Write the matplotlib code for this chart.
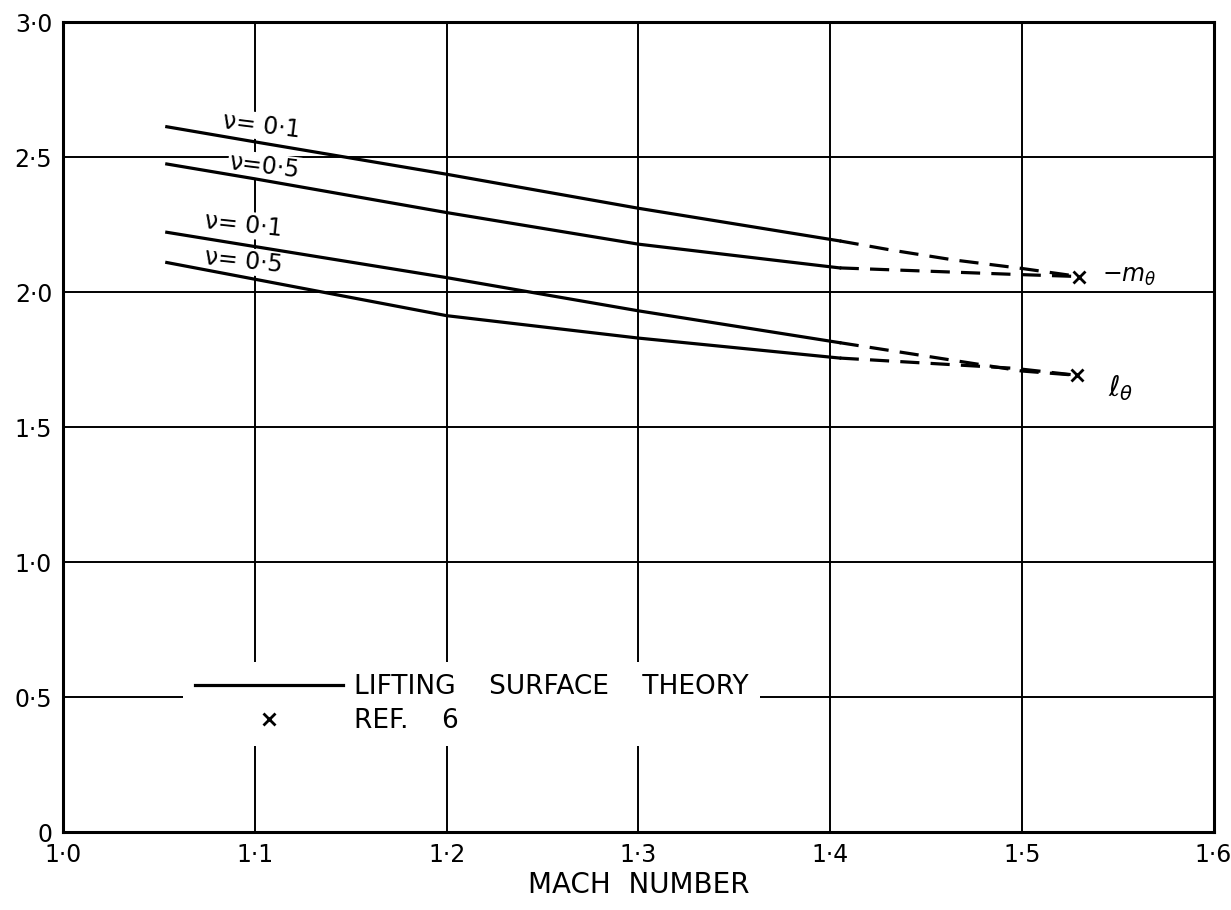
import matplotlib.pyplot as plt
from matplotlib.lines import Line2D

# lifting surface theory, solid part
mach = [1.054, 1.10, 1.20, 1.30, 1.405]
m_nu01 = [2.613, 2.557, 2.437, 2.311, 2.19]
m_nu05 = [2.475, 2.42, 2.295, 2.178, 2.09]
l_nu01 = [2.222, 2.169, 2.054, 1.931, 1.813]
l_nu05 = [2.110, 2.048, 1.913, 1.830, 1.756]

# dashed extrapolation towards the ref. 6 points
m01_ext_x = [1.405, 1.432, 1.464, 1.50, 1.53]
m01_ext_y = [2.19, 2.156, 2.12, 2.088, 2.058]
m05_ext_x = [1.405, 1.496, 1.53]
m05_ext_y = [2.09, 2.066, 2.058]
l01_ext_x = [1.405, 1.50, 1.529]
l01_ext_y = [1.813, 1.708, 1.692]
l05_ext_x = [1.405, 1.496, 1.529]
l05_ext_y = [1.756, 1.718, 1.692]

# ref. 6 values
ref_mach = [1.53, 1.529]
ref_vals = [2.058, 1.692]

xticks = [1.0, 1.1, 1.2, 1.3, 1.4, 1.5, 1.6]
xlabels = ['1·0', '1·1', '1·2', '1·3', '1·4', '1·5', '1·6']
yticks = [0, 0.5, 1.0, 1.5, 2.0, 2.5, 3.0]
ylabels = ['0', '0·5', '1·0', '1·5', '2·0', '2·5', '3·0']

fig = plt.figure(figsize=(12.31, 9.10), dpi=100)
ax = fig.add_axes([0.0514, 0.0857, 0.9344, 0.8898])
ax.set_xlim(1.0, 1.6)
ax.set_ylim(0, 3.0)

# grid drawn by hand so labels can blank it out
for x in xticks[1:-1]:
    ax.axvline(x, color='black', lw=1.4, zorder=1)
for y in yticks[1:-1]:
    ax.axhline(y, color='black', lw=1.4, zorder=1)

lw = 2.3
for ys in [m_nu01, m_nu05, l_nu01, l_nu05]:
    ax.plot(mach, ys, color='black', lw=lw, zorder=3)

dash = (0, (6, 3.5))
ax.plot(m01_ext_x, m01_ext_y, color='black', lw=lw, ls=dash, zorder=3)
ax.plot(m05_ext_x, m05_ext_y, color='black', lw=lw, ls=dash, zorder=3)
ax.plot(l01_ext_x, l01_ext_y, color='black', lw=lw, ls=dash, zorder=3)
ax.plot(l05_ext_x, l05_ext_y, color='black', lw=lw, ls=dash, zorder=3)
ax.plot(ref_mach, ref_vals, 'x', color='black', ms=9, mew=2, zorder=4)

box = dict(facecolor='white', edgecolor='none', pad=1)
fs = 17
ax.text(1.1036, 2.615, 'ν= 0·1', fontsize=fs, rotation=-7, ha='center', va='center', bbox=box, zorder=2)
ax.text(1.105, 2.465, 'ν=0·5', fontsize=fs, rotation=-7, ha='center', va='center', bbox=box, zorder=2)
ax.text(1.094, 2.25, 'ν= 0·1', fontsize=fs, rotation=-6, ha='center', va='center', bbox=box, zorder=2)
ax.text(1.094, 2.115, 'ν= 0·5', fontsize=fs, rotation=-6, ha='center', va='center', bbox=box, zorder=2)

ax.text(1.542, 2.06, r'$-m_\theta$', fontsize=fs, ha='left', va='center', zorder=2)
ax.text(1.545, 1.645, r'$\ell_\theta$', fontsize=fs + 3, ha='left', va='center', zorder=2)

handles = [Line2D([], [], color='black', lw=lw),
           Line2D([], [], color='black', ls='none', marker='x', ms=8, mew=2)]
leg = ax.legend(handles, ['LIFTING    SURFACE    THEORY', 'REF.    6'], loc='center left',
                bbox_to_anchor=(0.093, 0.158), fontsize=19, frameon=True, fancybox=False,
                handlelength=5.6, handletextpad=0.4, labelspacing=0.3, borderpad=0.45)
leg.get_frame().set_edgecolor('none')
leg.get_frame().set_facecolor('white')
leg.get_frame().set_alpha(1)
leg.set_zorder(2)

ax.set_xticks(xticks)
ax.set_xticklabels(xlabels)
ax.set_yticks(yticks)
ax.set_yticklabels(ylabels)
ax.tick_params(length=0, labelsize=17, pad=8)
for s in ax.spines.values():
    s.set_linewidth(2.2)
ax.set_xlabel('MACH  NUMBER', fontsize=20, labelpad=3)

fig.savefig('out.png', dpi=100)
